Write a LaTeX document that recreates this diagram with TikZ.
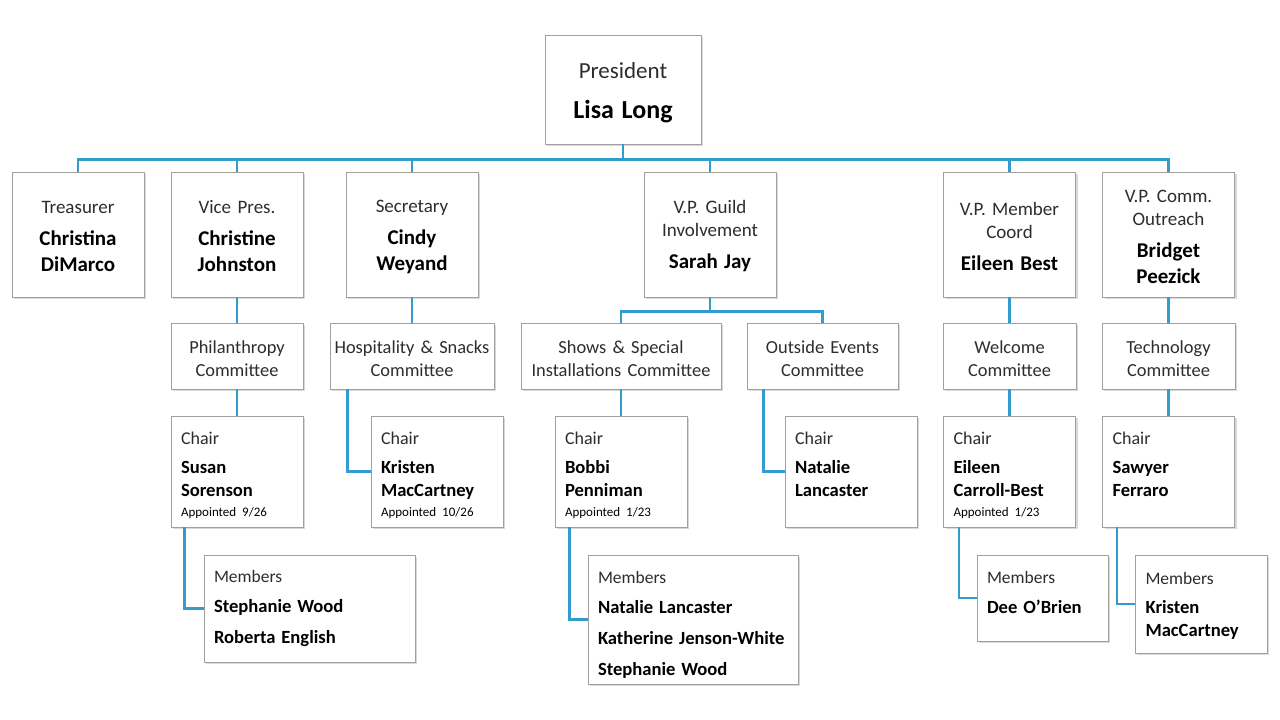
\documentclass[tikz,border=0pt]{standalone}
\usepackage{fontspec}
\setmainfont{Carlito}
\usepackage{xcolor}
\usetikzlibrary{shadows}

\definecolor{linkblue}{RGB}{52,155,206}
\definecolor{boxline}{RGB}{160,160,160}
\definecolor{roletext}{RGB}{45,45,45}

\newcommand{\role}[1]{{\color{roletext}#1}}
\newcommand{\who}[1]{{\bfseries\fontsize{21}{24}\selectfont #1}}
\newcommand{\mem}[1]{{\bfseries\fontsize{18.6}{23}\selectfont #1}}
\newcommand{\appt}[1]{{\fontsize{13}{15}\selectfont #1}}

\begin{document}
\begin{tikzpicture}[x=1pt, y=-1pt,
  orgbox/.style={draw=boxline, line width=0.9pt, fill=white,
    drop shadow={shadow xshift=2pt, shadow yshift=-2pt, opacity=0.3},
    inner sep=0pt, align=center, font=\fontsize{18.4}{23}\selectfont},
  textdown/.style={execute at begin node={\rule{0pt}{#1}}},
  rolebox/.style={orgbox, textdown=17pt, minimum width=132pt, minimum height=125pt,
    text width=128pt, font=\fontsize{19}{23}\selectfont},
  commbox/.style={orgbox, textdown=17.5pt, minimum height=66pt},
  chairbox/.style={orgbox, textdown=20pt, align=left, minimum width=132pt, minimum height=111pt,
    text width=112pt, font=\fontsize{18}{23}\selectfont},
  membox/.style={orgbox, align=left, font=\fontsize{17.5}{23}\selectfont},
  link/.style={draw=linkblue, line width=2.8pt}]

\useasboundingbox (0,0) rectangle (1280,720);

% President at the top
\node[orgbox, textdown=22.6pt, minimum width=156pt, minimum height=109pt, text width=150pt,
  font=\fontsize{23}{28}\selectfont] (pres) at (623,89.5)
  {\role{President}\\[12pt]{\bfseries\fontsize{26}{30}\selectfont Lisa Long}};

% Officers
\node[rolebox] (treas) at (78,234.5) {\role{Treasurer}\\[9pt]\who{Christina}\\[3pt]\who{DiMarco}};
\node[rolebox] (vice) at (237,234.5) {\role{Vice Pres.}\\[9pt]\who{Christine}\\[3pt]\who{Johnston}};
\node[rolebox] (sec) at (412,234.5) {\role{Secretary}\\[9pt]\who{Cindy}\\[3pt]\who{Weyand}};
\node[rolebox] (guild) at (710,234.5) {\role{V.P. Guild}\\\role{Involvement}\\[9pt]\who{Sarah Jay}};
\node[rolebox] (coord) at (1009.5,234.5) {\role{V.P. Member}\\\role{Coord}\\[9pt]\who{Eileen Best}};
\node[rolebox] (outreach) at (1168.5,234.5) {\role{V.P. Comm.}\\\role{Outreach}\\[9pt]\who{Bridget}\\[3pt]\who{Peezick}};

% Committees
\node[commbox, minimum width=132pt, text width=128pt] (phil) at (237,356) {\role{Philanthropy}\\\role{Committee}};
\node[commbox, minimum width=164pt, text width=160pt] (hosp) at (412,356) {\role{Hospitality \& Snacks}\\\role{Committee}};
\node[commbox, minimum width=200pt, text width=196pt] (shows) at (621,356) {\role{Shows \& Special}\\\role{Installations Committee}};
\node[commbox, minimum width=151pt, text width=147pt] (outside) at (822.5,356) {\role{Outside Events}\\\role{Committee}};
\node[commbox, minimum width=133pt, text width=129pt] (welcome) at (1009.5,356) {\role{Welcome}\\\role{Committee}};
\node[commbox, minimum width=133pt, text width=129pt] (tech) at (1168.5,356) {\role{Technology}\\\role{Committee}};

% Chairs
\node[chairbox] (susan) at (237,471.5) {\role{Chair}\\[6pt]\mem{Susan}\\\mem{Sorenson}\\[-3pt]\appt{Appointed 9/26}};
\node[chairbox] (kristen) at (437,471.5) {\role{Chair}\\[6pt]\mem{Kristen}\\\mem{MacCartney}\\[-3pt]\appt{Appointed 10/26}};
\node[chairbox] (bobbi) at (621,471.5) {\role{Chair}\\[6pt]\mem{Bobbi}\\\mem{Penniman}\\[-3pt]\appt{Appointed 1/23}};
\node[chairbox] (natalie) at (851,471.5) {\role{Chair}\\[6pt]\mem{Natalie}\\\mem{Lancaster}\\[-3pt]\appt{\phantom{Appointed}}};
\node[chairbox] (eileen) at (1009.5,471.5) {\role{Chair}\\[6pt]\mem{Eileen}\\\mem{Carroll-Best}\\[-3pt]\appt{Appointed 1/23}};
\node[chairbox] (sawyer) at (1168.5,471.5) {\role{Chair}\\[6pt]\mem{Sawyer}\\\mem{Ferraro}\\[-3pt]\appt{\phantom{Appointed}}};

% Members
\node[membox, minimum width=211pt, minimum height=107pt, text width=191pt] (philmem) at (309.5,608.5)
  {\role{Members}\\[7pt]\mem{Stephanie Wood}\\[8pt]\mem{Roberta English}};
\node[membox, textdown=22.6pt, minimum width=210pt, minimum height=129pt, text width=190pt] (showmem) at (693,619.5)
  {\role{Members}\\[7pt]\mem{Natalie Lancaster}\\[8pt]\mem{Katherine Jenson-White}\\[8pt]\mem{Stephanie Wood}};
\node[membox, textdown=22.6pt, minimum width=131pt, minimum height=86pt, text width=111pt] (welcmem) at (1042.5,598)
  {\role{Members}\\[7pt]\mem{Dee O’Brien}\\[-2pt]\mbox{}};
\node[membox, textdown=15.6pt, minimum width=132pt, minimum height=98pt, text width=111pt] (techmem) at (1201,604)
  {\role{Members}\\[6pt]\mem{Kristen}\\\mem{MacCartney}};

% Connect president to officers
\draw[link] (pres.south) -- ++(0,15) -| (treas.north);
\draw[link] (pres.south) -- ++(0,15) -| (vice.north);
\draw[link] (pres.south) -- ++(0,15) -| (sec.north);
\draw[link] (pres.south) -- ++(0,15) -| (guild.north);
\draw[link] (pres.south) -- ++(0,15) -| (coord.north);
\draw[link] (pres.south) -- ++(0,15) -| (outreach.north);

% Connect officers to committees
\draw[link] (vice.south) -- (phil.north);
\draw[link] (sec.south) -- (hosp.north);
\draw[link] (guild.south) -- ++(0,14) -| (shows.north);
\draw[link] (guild.south) -- ++(0,14) -| (outside.north);
\draw[link] (coord.south) -- (welcome.north);
\draw[link] (outreach.south) -- (tech.north);

% Connect committees to chairs
\draw[link] (phil.south) -- (susan.north);
\draw[link] ([xshift=18pt]hosp.south west) |- (kristen.west);
\draw[link] (shows.south) -- (bobbi.north);
\draw[link] ([xshift=17pt]outside.south west) |- (natalie.west);
\draw[link] (welcome.south) -- (eileen.north);
\draw[link] (tech.south) -- (sawyer.north);

% Connect chairs to members
\draw[link] ([xshift=14pt]susan.south west) |- (philmem.west);
\draw[link] ([xshift=15pt]bobbi.south west) |- (showmem.west);
\draw[link] ([xshift=16pt]eileen.south west) |- (welcmem.west);
\draw[link] ([xshift=15pt]sawyer.south west) |- (techmem.west);

\end{tikzpicture}
\end{document}
